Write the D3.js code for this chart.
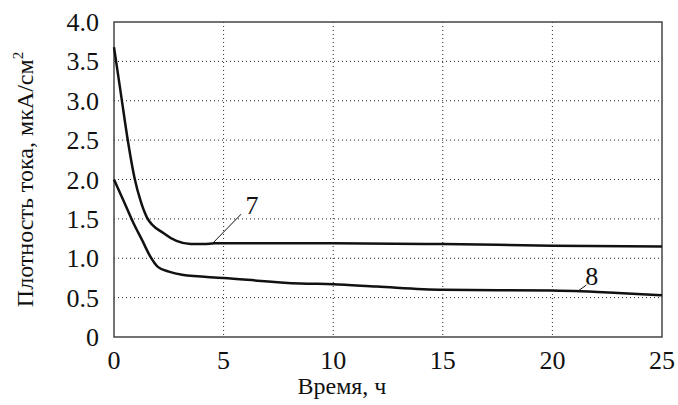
<!DOCTYPE html>
<html>
<head>
<meta charset="utf-8">
<script src="https://cdn.jsdelivr.net/npm/d3@7"></script>
<style>
  body { margin: 0; background: #fff; }
</style>
</head>
<body>
<svg id="chart"></svg>
<script>
// curve 7
var time7 = [0, 0.35, 0.6, 0.96, 1.2, 1.5, 2.25, 2.85, 3.5, 4.1, 4.6, 6, 8.5, 10, 15, 20, 25];
var dens7 = [3.68, 3.02, 2.55, 1.99, 1.74, 1.52, 1.32, 1.22, 1.18, 1.18, 1.19, 1.19, 1.19, 1.19, 1.18, 1.16, 1.15];
// curve 8
var time8 = [0, 0.42, 0.88, 1.3, 1.64, 2.0, 2.5, 3.1, 5, 8.5, 10, 12, 15, 20, 21, 23, 25];
var dens8 = [2.0, 1.74, 1.45, 1.22, 1.03, 0.89, 0.83, 0.79, 0.75, 0.68, 0.67, 0.64, 0.60, 0.59, 0.585, 0.56, 0.53];

var xTicks = [0, 5, 10, 15, 20, 25];
var yTicks = [0, 0.5, 1.0, 1.5, 2.0, 2.5, 3.0, 3.5, 4.0];

var serif = "'Liberation Serif'";

var svgWidth = 678, svgHeight = 405;
var margin = { top: 22, right: 16, bottom: 68, left: 114 };
var width = svgWidth - margin.left - margin.right;
var height = svgHeight - margin.top - margin.bottom;

var svg = d3.select("#chart")
  .attr("width", svgWidth)
  .attr("height", svgHeight);

var g = svg.append("g")
  .attr("transform", "translate(" + margin.left + "," + margin.top + ")");

var x = d3.scaleLinear().domain([0, 25]).range([0, width]);
var y = d3.scaleLinear().domain([0, 4]).range([height, 0]);

// grid
g.append("g")
  .selectAll("line")
  .data(yTicks.filter(function (d) { return d > 0 && d < 4; }))
  .enter().append("line")
  .attr("x1", 0).attr("x2", width)
  .attr("y1", function (d) { return y(d); })
  .attr("y2", function (d) { return y(d); })
  .attr("stroke", "#222")
  .attr("stroke-width", 1)
  .attr("stroke-dasharray", "1,3");

g.append("g")
  .selectAll("line")
  .data(xTicks.filter(function (d) { return d > 0 && d < 25; }))
  .enter().append("line")
  .attr("y1", 0).attr("y2", height)
  .attr("x1", function (d) { return x(d); })
  .attr("x2", function (d) { return x(d); })
  .attr("stroke", "#222")
  .attr("stroke-width", 1)
  .attr("stroke-dasharray", "1,3");

// frame
g.append("rect")
  .attr("width", width).attr("height", height)
  .attr("fill", "none")
  .attr("stroke", "#444")
  .attr("stroke-width", 1.5);

// tick labels, drawn by hand so no axis default font gets in the way
g.append("g")
  .selectAll("text")
  .data(xTicks)
  .enter().append("text")
  .attr("x", function (d) { return x(d); })
  .attr("y", height + 32)
  .attr("text-anchor", "middle")
  .text(function (d) { return d; });

g.append("g")
  .selectAll("text")
  .data(yTicks)
  .enter().append("text")
  .attr("x", -15)
  .attr("y", function (d) { return y(d) + 9; })
  .attr("text-anchor", "end")
  .text(function (d) { return d === 0 ? "0" : d3.format(".1f")(d); });

// curves
var line = d3.line()
  .x(function (d) { return x(d[0]); })
  .y(function (d) { return y(d[1]); })
  .curve(d3.curveMonotoneX);

g.append("path")
  .datum(d3.zip(time7, dens7))
  .attr("fill", "none")
  .attr("stroke", "#111")
  .attr("stroke-width", 2.5)
  .attr("d", line);

g.append("path")
  .datum(d3.zip(time8, dens8))
  .attr("fill", "none")
  .attr("stroke", "#111")
  .attr("stroke-width", 2.5)
  .attr("d", line);

// curve labels with leader lines
g.append("line")
  .attr("x1", x(4.5)).attr("y1", y(1.19))
  .attr("x2", x(5.8)).attr("y2", y(1.56))
  .attr("stroke", "#111").attr("stroke-width", 1);
g.append("text")
  .attr("x", x(6.3)).attr("y", y(1.56))
  .attr("text-anchor", "middle")
  .text("7");

g.append("line")
  .attr("x1", x(21.2)).attr("y1", y(0.59))
  .attr("x2", x(21.55)).attr("y2", y(0.66))
  .attr("stroke", "#111").attr("stroke-width", 1);
g.append("text")
  .attr("x", x(21.8)).attr("y", y(0.66))
  .attr("text-anchor", "middle")
  .text("8");

// font for every label so far
svg.selectAll("text")
  .attr("font-family", serif)
  .attr("font-size", 26)
  .attr("fill", "#111");

// axis titles
svg.append("text")
  .attr("x", margin.left + x(10.4))
  .attr("y", 394)
  .attr("font-family", serif)
  .attr("font-size", 24)
  .attr("fill", "#111")
  .attr("text-anchor", "middle")
  .text("Время, ч");

var yTitle = svg.append("text")
  .attr("transform", "translate(33," + (margin.top + height / 2) + ") rotate(-90)")
  .attr("font-family", serif)
  .attr("font-size", 24)
  .attr("fill", "#111")
  .attr("text-anchor", "middle");
yTitle.append("tspan").text("Плотность тока, мкА/см");
yTitle.append("tspan").attr("font-size", 15).attr("dy", -10).text("2");
</script>
</body>
</html>
